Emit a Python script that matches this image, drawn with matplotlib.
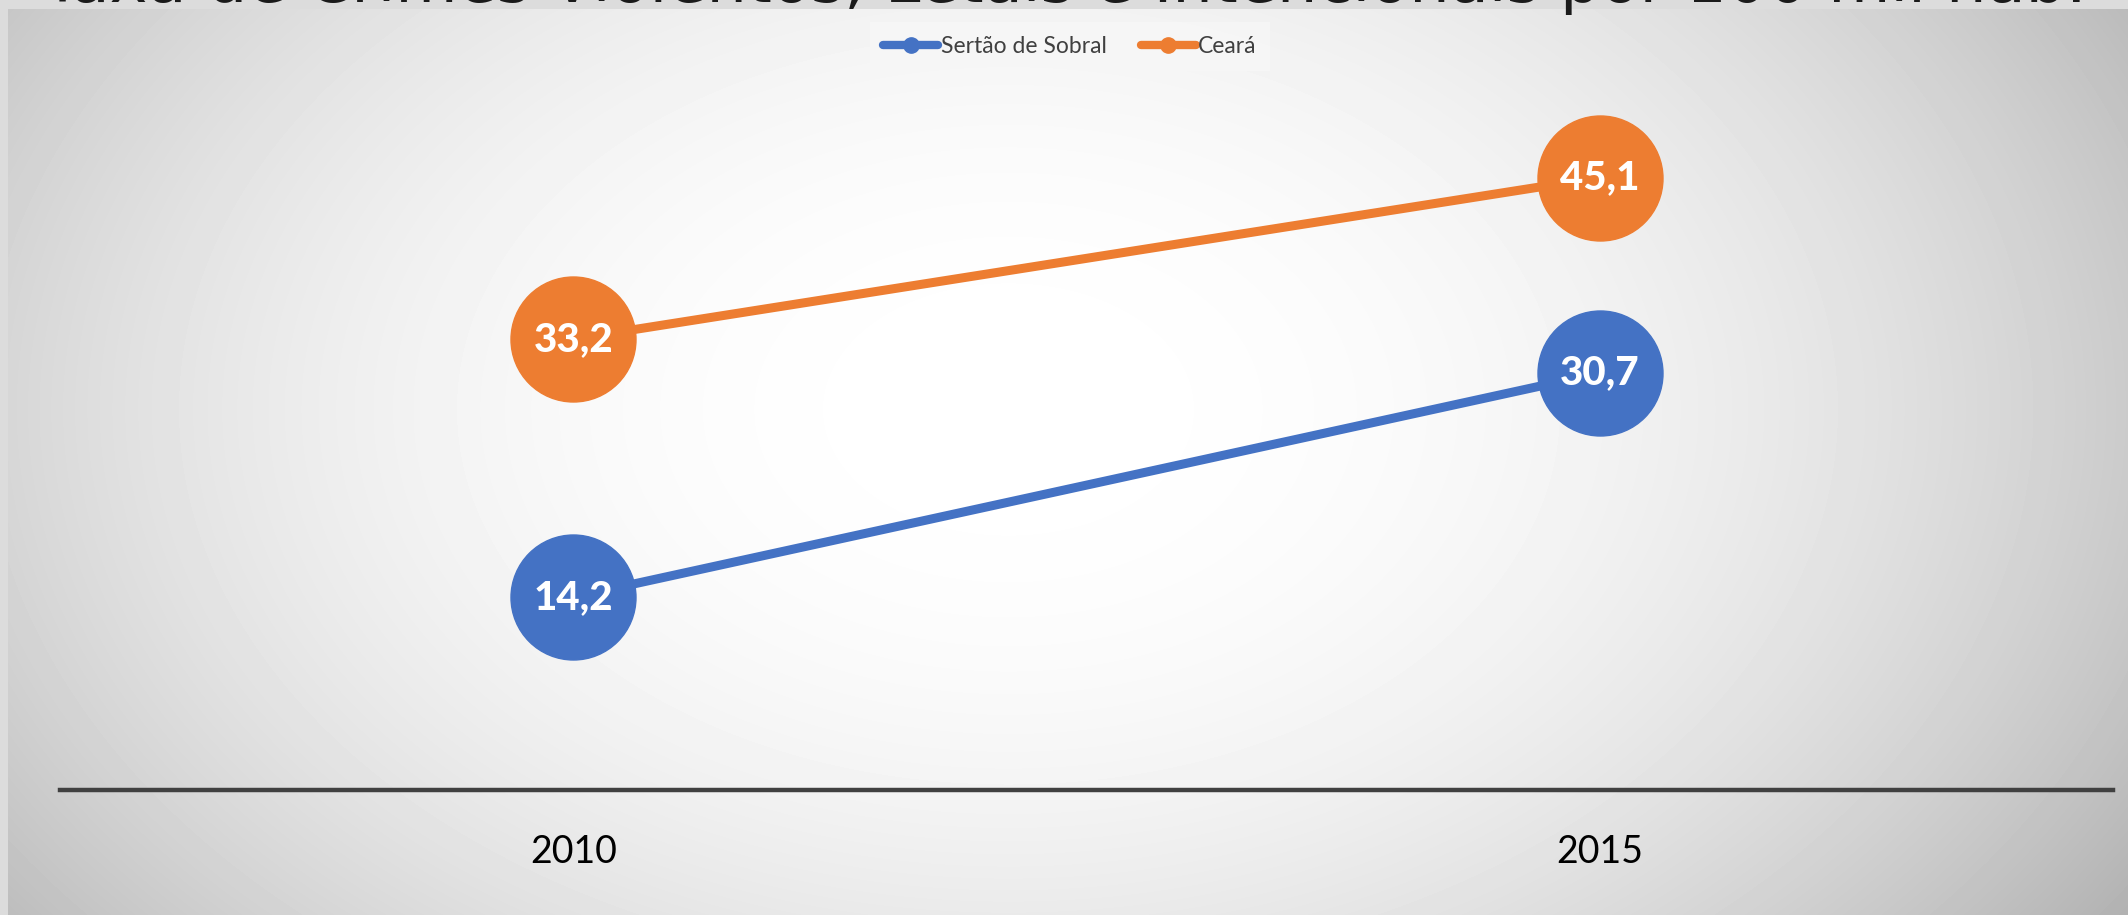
import numpy as np
import matplotlib.pyplot as plt
from matplotlib.lines import Line2D

# dados
anos = ['2010', '2015']
sobral = [14.2, 30.7]
ceara = [33.2, 45.1]
titulo = 'Taxa de Crimes Violentos, Letais e Intencionais por 100 mil hab.'

azul = '#4472C4'
laranja = '#ED7D31'

W, H = 2128, 915
fig = plt.figure(figsize=(W / 100, H / 100), dpi=100)
fig.patch.set_facecolor('#dcdcdc')

# fundo com degrade radial
bg = fig.add_axes([8 / W, 0, 1 - 8 / W, 1 - 9 / H], zorder=-2)
xx, yy = np.meshgrid(np.arange(W - 8), np.arange(H - 9))
r = np.sqrt(((xx - 1000) / 1250.0) ** 2 + ((yy - 400) / 850.0) ** 2)
val = 1 - 0.26 * np.clip(r, 0, 1.1) ** 2.2
bg.imshow(val, cmap='gray', vmin=0, vmax=1, aspect='auto', interpolation='bilinear')
bg.axis('off')

# titulo cortado no topo
fig.text(0.5, 1 - 2 / H, titulo, ha='center', va='baseline', fontsize=46,
         color='#1a1a1a', family='DejaVu Sans')

ax = fig.add_axes([60 / W, 1 - 790 / H, (2113 - 60) / W, (790 - 111) / H])
ax.set_facecolor('none')
x = np.arange(len(anos))

ax.plot(x, sobral, color=azul, lw=6.5, marker='o', ms=90, mec=azul, mfc=azul,
        label='Sertão de Sobral', solid_capstyle='round')
ax.plot(x, ceara, color=laranja, lw=6.5, marker='o', ms=90, mec=laranja, mfc=laranja,
        label='Ceará', solid_capstyle='round')

for serie in (sobral, ceara):
    for i, v in enumerate(serie):
        ax.text(x[i], v, f'{v:.1f}'.replace('.', ','), ha='center', va='center',
                color='white', fontsize=29, fontweight='black', family='Lato')

ax.set_xlim(-0.5, 1.5)
ax.set_ylim(0, 50)
ax.set_xticks(x)
ax.set_xticklabels(anos, fontsize=27, family='Lato', color='black')
ax.tick_params(axis='x', length=0, pad=32)
ax.set_yticks([])
for s in ['top', 'right', 'left']:
    ax.spines[s].set_visible(False)
ax.spines['bottom'].set_color('#404040')
ax.spines['bottom'].set_linewidth(3.2)

handles = [Line2D([], [], color=azul, lw=6, marker='o', ms=11, solid_capstyle='round'),
           Line2D([], [], color=laranja, lw=6, marker='o', ms=11, solid_capstyle='round')]
leg = fig.legend(handles, ['Sertão de Sobral', 'Ceará'], loc='center',
                 bbox_to_anchor=(1070 / W, 1 - 46.5 / H), ncol=2, frameon=True,
                 fancybox=False, prop={'family': 'Lato', 'size': 16.5},
                 handlelength=2.4, handletextpad=0.1, columnspacing=1.5,
                 borderpad=0.6)
leg.get_frame().set_facecolor('#f7f7f7')
leg.get_frame().set_edgecolor('none')
for t in leg.get_texts():
    t.set_color('#404040')

fig.savefig('out.png', dpi=100)
